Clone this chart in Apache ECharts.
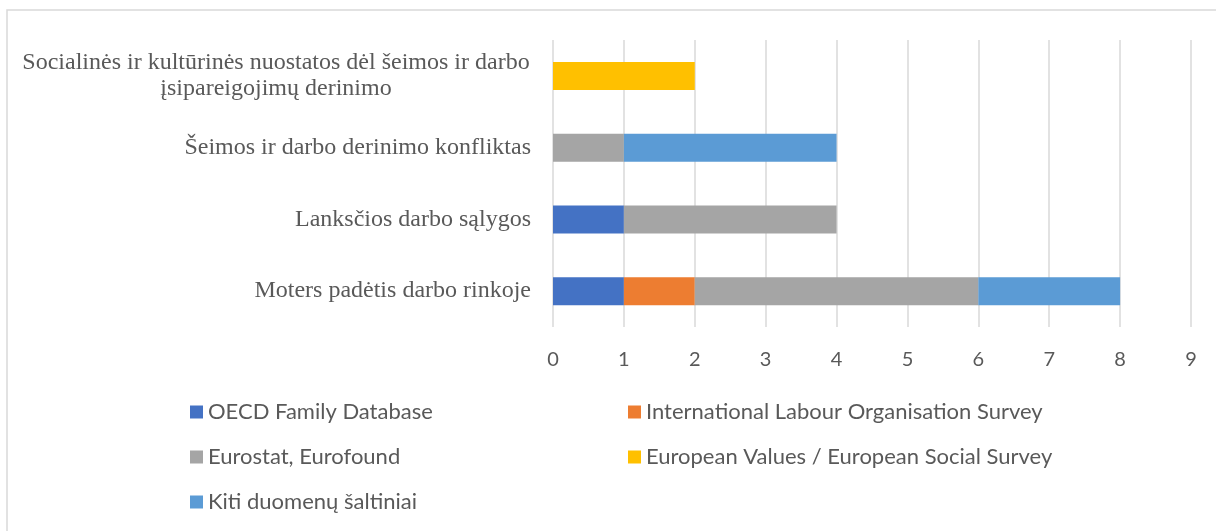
<!DOCTYPE html>
<html>
<head>
<meta charset="utf-8">
<script src="https://cdn.jsdelivr.net/npm/echarts@6/dist/echarts.min.js"></script>
<style>
html,body{margin:0;padding:0;background:#fff;}
#chart{width:1216px;height:531px;}
</style>
</head>
<body>
<div id="chart"></div>
<script>
var categories = [
  'Moters padėtis darbo rinkoje',
  'Lanksčios darbo sąlygos',
  'Šeimos ir darbo derinimo konfliktas',
  'Socialinės ir kultūrinės nuostatos dėl šeimos ir darbo\nįsipareigojimų derinimo'
];
var seriesNames = [
  'OECD Family Database',
  'International Labour Organisation Survey',
  'Eurostat, Eurofound',
  'European Values / European Social Survey',
  'Kiti duomenų šaltiniai'
];
var oecd = [1, 1, 0, 0];
var ilo = [1, 0, 0, 0];
var eurostat = [4, 3, 1, 0];
var evs = [0, 0, 0, 2];
var kiti = [2, 0, 3, 0];
var xTicks = [0, 1, 2, 3, 4, 5, 6, 7, 8, 9];

var colors = ['#4472C4', '#ED7D31', '#A5A5A5', '#FFC000', '#5B9BD5'];
var values = [oecd, ilo, eurostat, evs, kiti];

var chart = echarts.init(document.getElementById('chart'), null, {renderer: 'canvas'});
var legendText = {fontFamily: 'Lato', fontSize: 22, color: '#595959', lineHeight: 24};
var option = {
  animation: false,
  backgroundColor: '#fff',
  graphic: [{
    type: 'rect',
    shape: {x: 7, y: 10, width: 1300, height: 700},
    style: {fill: 'none', stroke: '#d9d9d9', lineWidth: 1.5},
    silent: true
  }],
  grid: {left: 553, right: 25, top: 40, height: 287},
  legend: [{
    data: [seriesNames[0], seriesNames[2], seriesNames[4]],
    orient: 'vertical', left: 185, top: 395,
    itemWidth: 13, itemHeight: 13, itemGap: 21,
    icon: 'rect', textStyle: legendText
  }, {
    data: [seriesNames[1], seriesNames[3]],
    orient: 'vertical', left: 623, top: 395,
    itemWidth: 13, itemHeight: 13, itemGap: 21,
    icon: 'rect', textStyle: legendText
  }],
  xAxis: {
    type: 'value', min: 0, max: 9, interval: 1,
    axisLine: {show: false}, axisTick: {show: false},
    splitLine: {show: true, lineStyle: {color: '#d9d9d9', width: 1.5}},
    axisLabel: {color: '#595959', fontFamily: 'Lato', fontSize: 20, margin: 23,
      formatter: function (v) { return xTicks.indexOf(v) >= 0 ? String(v) : ''; }}
  },
  yAxis: {
    type: 'category', data: categories,
    axisLine: {show: false}, axisTick: {show: false},
    axisLabel: {
      color: '#595959', fontFamily: 'Liberation Serif', fontSize: 24, margin: 22,
      lineHeight: 26,
      formatter: function (v) {
        if (v.indexOf('\n') >= 0) {
          return v.split('\n').map(function (s) { return '{c|' + s + '}'; }).join('\n');
        }
        return v;
      },
      rich: {c: {width: 510, align: 'center', color: '#595959', fontFamily: 'Liberation Serif', fontSize: 24, lineHeight: 26}}
    }
  },
  series: seriesNames.map(function (n, i) {
    return {
      name: n, type: 'bar', stack: 'total', barWidth: 28,
      itemStyle: {color: colors[i]},
      data: values[i]
    };
  })
};
chart.setOption(option);
</script>
</body>
</html>
